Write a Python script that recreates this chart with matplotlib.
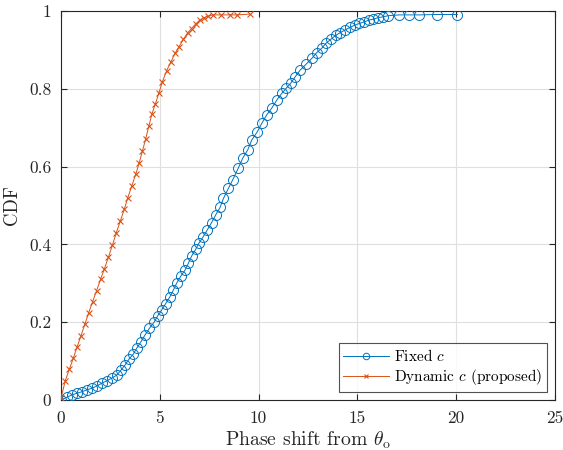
import matplotlib
matplotlib.use("Agg")
import matplotlib.pyplot as plt
from matplotlib.ticker import FixedLocator, FuncFormatter

plt.rcParams['font.family'] = ['cmr10', 'DejaVu Serif']
plt.rcParams['mathtext.fontset'] = 'cm'
plt.rcParams['axes.formatter.use_mathtext'] = True

# Fixed c
fixed_x = [0.0, 0.29, 0.54, 0.79, 1.05, 1.30, 1.55, 1.81, 2.06, 2.31, 2.56, 2.82, 3.04, 3.24,
           3.44, 3.66, 3.83, 4.05, 4.25, 4.47, 4.71, 4.89, 5.09, 5.30, 5.52, 5.69, 5.85, 6.07,
           6.28, 6.44, 6.61, 6.81, 6.98, 7.20, 7.40, 7.62, 7.83, 8.05, 8.22, 8.47, 8.69, 8.97,
           9.19, 9.45, 9.65, 9.94, 10.16, 10.41, 10.66, 10.92, 11.17, 11.39, 11.62, 11.84,
           12.10, 12.40, 12.69, 12.94, 13.19, 13.41, 13.65, 13.92, 14.12, 14.37, 14.63, 14.88,
           15.10, 15.35, 15.60, 15.81, 16.06, 16.31, 16.56, 17.12, 17.63, 18.13, 19.01, 20.06]
fixed_y = [0.0, 0.007, 0.013, 0.017, 0.021, 0.026, 0.030, 0.036, 0.043, 0.049, 0.056, 0.064,
           0.077, 0.090, 0.105, 0.118, 0.133, 0.150, 0.167, 0.184, 0.200, 0.216, 0.231, 0.248,
           0.266, 0.283, 0.300, 0.319, 0.334, 0.351, 0.370, 0.387, 0.403, 0.420, 0.437, 0.456,
           0.476, 0.495, 0.518, 0.544, 0.566, 0.596, 0.621, 0.643, 0.668, 0.690, 0.711, 0.733,
           0.750, 0.771, 0.788, 0.801, 0.814, 0.830, 0.848, 0.863, 0.878, 0.893, 0.904, 0.917,
           0.927, 0.938, 0.944, 0.951, 0.958, 0.964, 0.968, 0.972, 0.977, 0.979, 0.983, 0.985,
           0.988, 0.990, 0.990, 0.990, 0.991, 0.991]

# Dynamic c (proposed)
dyn_x = [0.0, 0.22, 0.42, 0.62, 0.82, 1.01, 1.21, 1.40, 1.60, 1.80, 2.0, 2.2, 2.4, 2.6, 2.8,
         3.0, 3.2, 3.38, 3.58, 3.78, 3.96, 4.12, 4.28, 4.45, 4.6, 4.78, 4.96, 5.13, 5.35, 5.57,
         5.77, 5.97, 6.19, 6.41, 6.61, 6.82, 7.03, 7.25, 7.46, 7.7, 8.1, 8.55, 8.9, 9.55]
dyn_y = [0.005, 0.05, 0.079, 0.107, 0.137, 0.165, 0.195, 0.224, 0.253, 0.281, 0.31, 0.338,
         0.367, 0.398, 0.43, 0.46, 0.49, 0.52, 0.55, 0.58, 0.61, 0.64, 0.67, 0.705, 0.735,
         0.762, 0.79, 0.818, 0.847, 0.87, 0.891, 0.908, 0.927, 0.944, 0.955, 0.967, 0.977,
         0.983, 0.987, 0.99, 0.99, 0.99, 0.99, 0.992]

x_ticks = [0, 5, 10, 15, 20, 25]
y_ticks = [0, 0.2, 0.4, 0.6, 0.8, 1]

fig = plt.figure(figsize=(5.63, 4.5), dpi=100)
ax = fig.add_axes([61/563, 1-400/450, (555-61)/563, (400-11)/450])

blue = '#0072BD'
orange = '#D95319'
ax.plot(fixed_x, fixed_y, '-o', color=blue, lw=0.7, markersize=7.2, markerfacecolor='none',
        markeredgewidth=0.7, label=r'Fixed $c$', zorder=3)
ax.plot(dyn_x, dyn_y, '-x', color=orange, lw=0.7, markersize=5, markeredgewidth=0.8,
        label=r'Dynamic $c$ (proposed)', zorder=4)

ax.set_xlim(0, 25)
ax.set_ylim(0, 1)
ax.xaxis.set_major_locator(FixedLocator(x_ticks))
ax.yaxis.set_major_locator(FixedLocator(y_ticks))
ax.yaxis.set_major_formatter(FuncFormatter(lambda v, p: ('%g' % v)))
ax.xaxis.set_major_formatter(FuncFormatter(lambda v, p: ('%g' % v)))
ax.grid(True, color='#DFDFDF', lw=0.8)
ax.set_axisbelow(True)
ax.tick_params(direction='in', top=True, right=True, length=4, width=0.8,
               colors='#262626', labelsize=12.5)
ax.tick_params(axis='x', pad=8)
ax.tick_params(axis='y', pad=7)
for s in ax.spines.values():
    s.set_color('#262626')
    s.set_linewidth(0.8)

ax.set_xlabel(r'Phase shift from $\theta_\mathrm{o}$', fontsize=14.2, color='#262626',
              labelpad=2)
ax.set_ylabel('CDF', fontsize=13.5, color='#262626', labelpad=6)

leg = ax.legend(loc='lower right', fontsize=11, frameon=True, fancybox=False,
                edgecolor='#262626', borderpad=0.3, handlelength=3.0, handletextpad=0.3,
                labelspacing=0.2, borderaxespad=0.55, markerscale=0.65)
leg.get_frame().set_linewidth(0.8)

fig.savefig('out.png', dpi=100)
